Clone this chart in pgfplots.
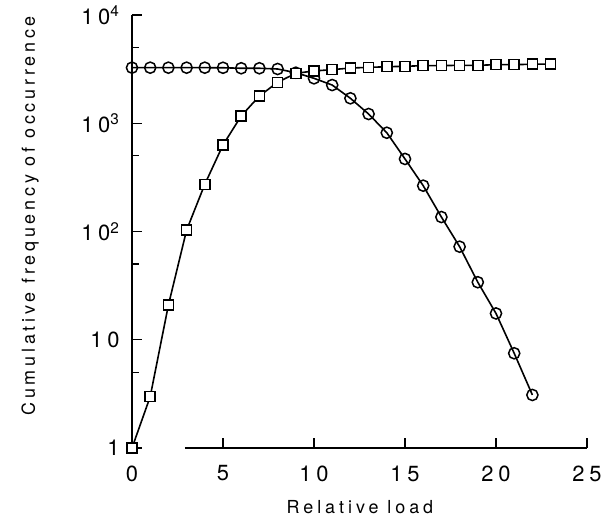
\documentclass[border=0pt]{standalone}
\usepackage{fontspec}
\setmainfont{TeX Gyre Heros}[LetterSpace=22]
\usepackage{pgfplots}
\pgfplotsset{compat=1.18}
\begin{document}
\begin{tikzpicture}
\useasboundingbox (-132bp,-76bp) rectangle (477bp,448bp);
\begin{axis}[
  at={(0,0)}, anchor=south west,
  scale only axis, width=455bp, height=433bp,
  ymode=log, xmin=0, xmax=25, ymin=1, ymax=10000,
  axis lines*=left, clip=false,
  x axis line style={draw=none},
  y axis line style={line width=1.4bp},
  tick align=inside,
  major tick length=10bp, minor tick length=7bp,
  every tick/.style={black, line width=1.3bp},
  xtick={0,5,10,15,20,25}, xticklabels={0,5,10,15,20,25},
  ytick={1,10,100,1000,10000},
  yticklabels={1,10,10\textsuperscript{2},10\textsuperscript{3},10\textsuperscript{4}},
  minor ytick={5,50,500,5000},
  ticklabel style={font=\fontsize{22}{25}\selectfont},
  yticklabel style={xshift=-9bp},
  xticklabel style={yshift=-14bp},
  xlabel={Relative load},
  ylabel={\addfontfeatures{LetterSpace=21}Cumulative frequency of occurrence},
  label style={font=\fontsize{18}{22}\selectfont},
  xlabel style={at={(axis description cs:0.501,-0.1356)}, anchor=center},
  ylabel style={at={(axis description cs:-0.224,0.536)}, anchor=center},
]
\addplot[black, line width=1.3bp, forget plot] coordinates {(2.9,1) (25,1)};
\addplot[black, line width=1.6bp, mark=o, mark size=5.6bp, mark options={fill=white, line width=1.5bp}]
coordinates {
(0,3260) (1,3260) (2,3260) (3,3260) (4,3260) (5,3255) (6,3220) (7,3220) (8,3170)
(9,2930) (10,2600) (11,2253) (12,1700) (13,1217) (14,817) (15,468) (16,265)
(17,136) (18,72.4) (19,34) (20,17.5) (21,7.5) (22,3.09)
};
\addplot[black, line width=1.6bp, mark=square*, mark size=5bp, mark options={fill=white, line width=1.5bp}]
coordinates {
(0,1) (1,2.98) (2,20.9) (3,103) (4,273) (5,630) (6,1167) (7,1786) (8,2390) (9,2893)
(10,3040) (11,3126) (12,3236) (13,3281) (14,3327) (15,3357) (16,3404) (17,3404)
(18,3428) (19,3428) (20,3475) (21,3475) (22,3508) (23,3524)
};
\end{axis}
\end{tikzpicture}
\end{document}
